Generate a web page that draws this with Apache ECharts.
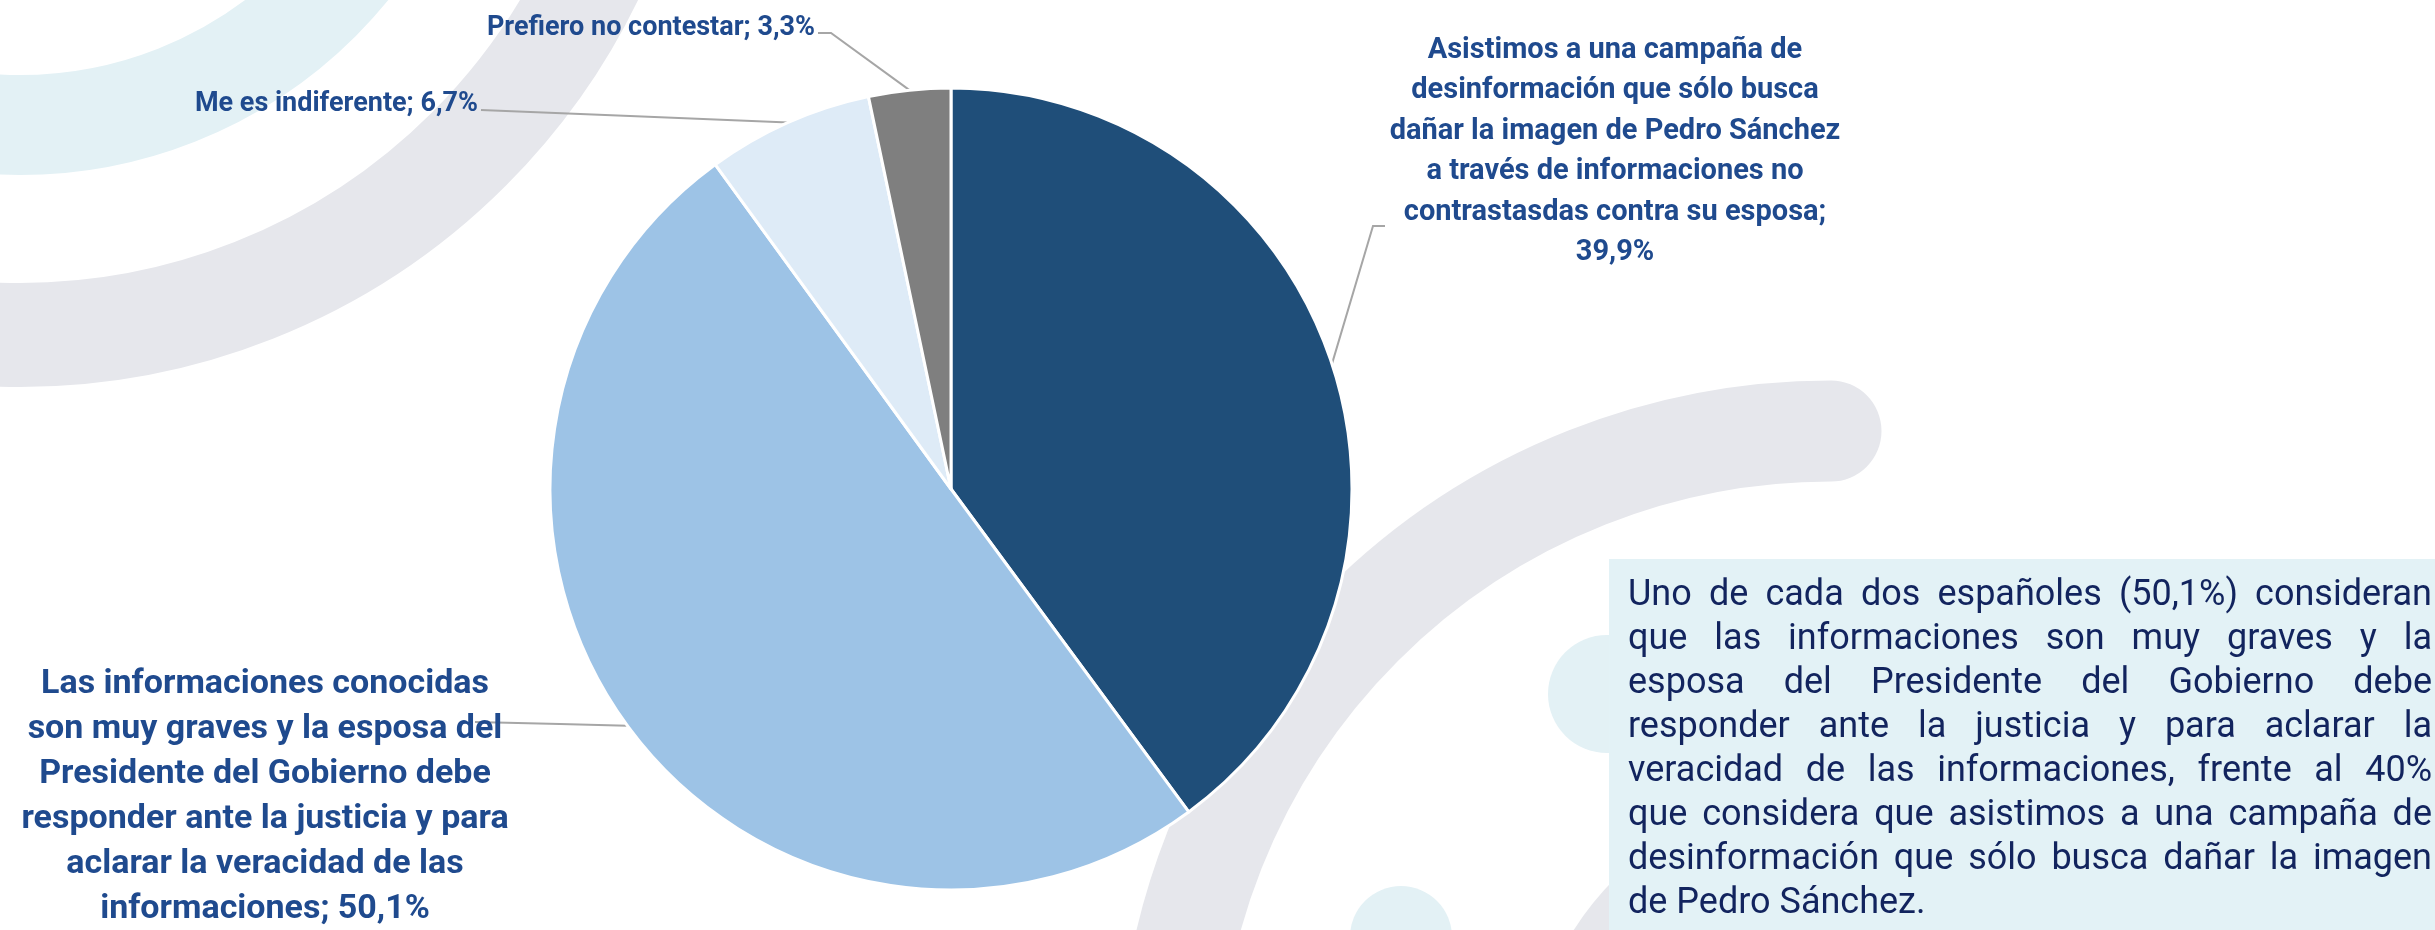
<!DOCTYPE html>
<html>
<head>
<meta charset="utf-8">
<title>Campaña de desinformación</title>
<script src="https://cdn.jsdelivr.net/npm/echarts@6/dist/echarts.min.js"></script>
<style>
  html, body { margin: 0; padding: 0; background: #fff; }
  #main { width: 2435px; height: 930px; }
</style>
</head>
<body>
<div id="main"></div>
<script>
// datos
var categories = [
  'Asistimos a una campaña de\ndesinformación que sólo busca\ndañar la imagen de Pedro Sánchez\na través de informaciones no\ncontrastasdas contra su esposa',
  'Las informaciones conocidas\nson muy graves y la esposa del\nPresidente del Gobierno debe\nresponder ante la justicia y para\naclarar la veracidad de las\ninformaciones',
  'Me es indiferente',
  'Prefiero no contestar'
];
var values = [39.9, 50.1, 6.7, 3.3];
var colors = ['#1F4E79', '#9DC3E6', '#DEEBF7', '#7F7F7F'];

var noteLines = [
  'Uno de cada dos españoles (50,1%) consideran',
  'que las informaciones son muy graves y la',
  'esposa del Presidente del Gobierno debe',
  'responder ante la justicia y para aclarar la',
  'veracidad de las informaciones, frente al 40%',
  'que considera que asistimos a una campaña de',
  'desinformación que sólo busca dañar la imagen',
  'de Pedro Sánchez.'
];

// posiciones de las etiquetas (layout)
var labelBox = [
  { x: 1615, y: 30, align: 'center', vAlign: 'top', size: 29, lh: 40.5, newLine: true, bend: [[1373, 226], [1385, 226]] },
  { x: 265, y: 662, align: 'center', vAlign: 'top', size: 34, lh: 45, newLine: false, bend: [[560, 724], [475, 722]] },
  { x: 478, y: 104, align: 'right', vAlign: 'middle', size: 27, lh: 32, newLine: false, bend: [[630, 116], [481, 110]] },
  { x: 815, y: 28, align: 'right', vAlign: 'middle', size: 27, lh: 32, newLine: false, bend: [[831, 33], [818, 33]] }
];

var FONT = 'Roboto';
var labelColor = '#1F4A8E';
var noteColor = '#12245E';
var noteFont = 36;

function pct(v) {
  return v.toFixed(1).replace('.', ',') + '%';
}

var pieData = categories.map(function (name, i) {
  return {
    name: name,
    value: values[i],
    itemStyle: { color: colors[i] },
    label: { fontSize: labelBox[i].size, lineHeight: labelBox[i].lh }
  };
});

// texto justificado del recuadro
var measure = document.createElement('canvas').getContext('2d');
measure.font = noteFont + 'px ' + FONT;
var noteLeft = 1628, noteRight = 2432, noteTop = 596, noteStep = 44;
var noteEls = [];
noteLines.forEach(function (line, li) {
  var words = line.split(' ');
  var y = noteTop + li * noteStep;
  var widths = words.map(function (w) { return measure.measureText(w).width; });
  var total = widths.reduce(function (a, b) { return a + b; }, 0);
  var last = li === noteLines.length - 1;
  var gap = last ? measure.measureText(' ').width : (noteRight - noteLeft - total) / (words.length - 1);
  var x = noteLeft;
  words.forEach(function (w, wi) {
    noteEls.push({
      type: 'text', x: x, y: y, z: 20,
      style: { text: w, fontSize: noteFont, fontFamily: FONT, fill: noteColor, verticalAlign: 'middle', align: 'left' }
    });
    x += widths[wi] + gap;
  });
});

var decor = [
  // anillos arriba a la izquierda
  { type: 'arc', z: 1, shape: { cx: 20, cy: -300, r: 425, startAngle: 0, endAngle: Math.PI * 2 },
    style: { stroke: '#E3F1F5', lineWidth: 100, fill: null } },
  { type: 'arc', z: 1, shape: { cx: 20, cy: -300, r: 635, startAngle: 0, endAngle: Math.PI * 2 },
    style: { stroke: '#E6E7EC', lineWidth: 104, fill: null } },
  // anillo derecho con extremo redondeado
  { type: 'arc', z: 1, shape: { cx: 1831, cy: 1094, r: 663, startAngle: -Math.PI / 2, endAngle: -Math.PI * 1.1, clockwise: false },
    style: { stroke: '#E6E7EC', lineWidth: 101, fill: null, lineCap: 'round' } },
  { type: 'arc', z: 1, shape: { cx: 1831, cy: 1094, r: 255, startAngle: 0, endAngle: Math.PI * 2 },
    style: { stroke: '#E6E7EC', lineWidth: 100, fill: null } },
  // manchas cian
  { type: 'rect', z: 1, shape: { x: 1548, y: 635, width: 200, height: 118, r: 59 },
    style: { fill: '#E3F1F5' } },
  { type: 'rect', z: 1, shape: { x: 1350, y: 886, width: 102, height: 200, r: [51, 51, 0, 0] },
    style: { fill: '#E3F1F5' } },
  // recuadro de texto
  { type: 'rect', z: 10, shape: { x: 1609, y: 559, width: 840, height: 400 },
    style: { fill: '#E3F2F6' } }
];

var chart = echarts.init(document.getElementById('main'));
chart.setOption({
  backgroundColor: '#ffffff',
  animation: false,
  graphic: { elements: decor.concat(noteEls) },
  series: [{
    type: 'pie',
    z: 5,
    center: [951, 489],
    radius: 401,
    startAngle: 90,
    clockwise: true,
    avoidLabelOverlap: false,
    itemStyle: { borderColor: '#ffffff', borderWidth: 3 },
    label: {
      show: true,
      position: 'outside',
      color: labelColor,
      fontFamily: FONT,
      fontWeight: 'bold',
      formatter: function (p) {
        var sep = labelBox[p.dataIndex].newLine ? ';\n' : '; ';
        return p.name + sep + pct(p.value);
      }
    },
    labelLine: {
      show: true,
      length: 20,
      length2: 20,
      lineStyle: { color: '#A6A6A6', width: 2 }
    },
    labelLayout: function (params) {
      var b = labelBox[params.dataIndex];
      var start = params.labelLinePoints ? params.labelLinePoints[0] : b.bend[0];
      return {
        x: b.x,
        y: b.y,
        align: b.align,
        verticalAlign: b.vAlign,
        labelLinePoints: [start, b.bend[0], b.bend[1]]
      };
    },
    emphasis: { disabled: true },
    data: pieData
  }]
});
</script>
</body>
</html>
